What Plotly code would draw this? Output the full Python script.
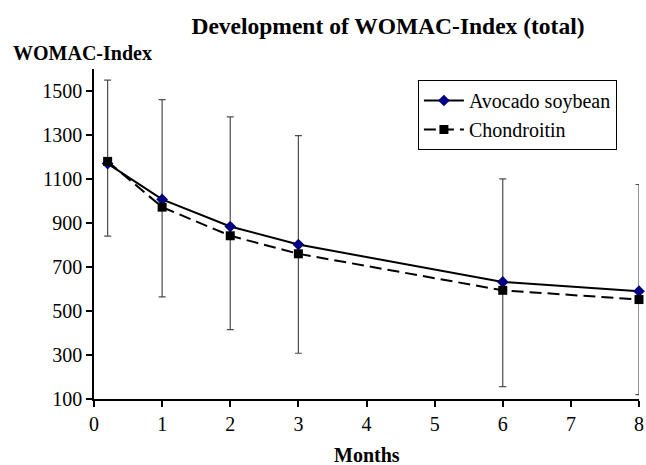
import plotly.graph_objects as go

months = [0.2, 1, 2, 3, 6, 8]
avocado = [1170, 1007, 884, 802, 632, 590]
chondroitin = [1180, 972, 842, 760, 594, 552]
bar_upper = [1549, 1461, 1382, 1297, 1101, 1075]
bar_lower = [840, 564, 415, 308, 156, 120]

x_ticks = [0, 1, 2, 3, 4, 5, 6, 7, 8]
y_ticks = [100, 300, 500, 700, 900, 1100, 1300, 1500]

FONT = "Liberation Serif"

err_plus = [u - a for u, a in zip(bar_upper, avocado)]
err_minus = [a - l for a, l in zip(avocado, bar_lower)]

fig = go.Figure()
fig.add_trace(go.Scatter(
    x=months, y=avocado, mode="markers",
    marker=dict(size=1, opacity=0),
    error_y=dict(type="data", symmetric=False, array=err_plus, arrayminus=err_minus,
                 color="#4d4d4d", thickness=1.2, width=3.5),
    showlegend=False, hoverinfo="skip", cliponaxis=False,
))
fig.add_trace(go.Scatter(
    x=months, y=avocado, mode="lines+markers", name="Avocado soybean",
    line=dict(color="black", width=2),
    marker=dict(symbol="diamond", size=9, color="#000080", line=dict(width=0)),
    cliponaxis=False,
))
fig.add_trace(go.Scatter(
    x=months, y=chondroitin, mode="lines+markers", name="Chondroitin",
    line=dict(color="black", width=2, dash="12px,6px"),
    marker=dict(symbol="square", size=9, color="black", line=dict(width=0)),
    cliponaxis=False,
))

PW, PH = 549.7, 330.3
X0, Y0 = 94.3, 399.3

fig.update_layout(
    width=646, height=465,
    margin=dict(l=94, r=2, t=69, b=66),
    paper_bgcolor="white", plot_bgcolor="white",
    font=dict(family=FONT, size=20, color="black"),
    title=dict(text="<b>Development of WOMAC-Index (total)</b>",
               x=388 / 646, xanchor="center", xref="container",
               y=1 - 26 / 465, yanchor="middle",
               font=dict(family=FONT, size=23.5, color="black")),
    legend=dict(x=(421 - X0) / PW, xanchor="left", y=(Y0 - 80) / PH, yanchor="top",
                bordercolor="black", borderwidth=1, bgcolor="white",
                font=dict(family=FONT, size=20, color="black"),
                tracegroupgap=0, itemwidth=40),
    xaxis=dict(range=[0, 8], tickmode="array", tickvals=x_ticks,
               ticktext=[str(t) for t in x_ticks],
               showline=True, linecolor="black", linewidth=1.5,
               ticks="outside", ticklen=6, tickcolor="black", tickwidth=1.5,
               showgrid=False, zeroline=False, ticklabeloverflow="allow",
               tickfont=dict(family=FONT, size=20, color="black")),
    yaxis=dict(range=[100, 1600], tickmode="array", tickvals=y_ticks,
               ticktext=[str(t) for t in y_ticks],
               showline=True, linecolor="black", linewidth=1.5,
               ticks="outside", ticklen=6, tickcolor="black", tickwidth=1.5,
               showgrid=False, zeroline=False,
               tickfont=dict(family=FONT, size=20, color="black")),
    annotations=[
        dict(text="<b>WOMAC-Index</b>", xref="paper", yref="paper",
             x=(11 - X0) / PW, y=(Y0 - 53) / PH,
             xanchor="left", yanchor="middle", showarrow=False,
             font=dict(family=FONT, size=20, color="black")),
        dict(text="<b>Months</b>", xref="paper", yref="paper",
             x=0.5, y=(Y0 - 455) / PH,
             xanchor="center", yanchor="middle", showarrow=False,
             font=dict(family=FONT, size=20, color="black")),
    ],
)

fig.write_html("out.html", config={"displayModeBar": False},
               post_script="document.body.style.margin='0px';")
